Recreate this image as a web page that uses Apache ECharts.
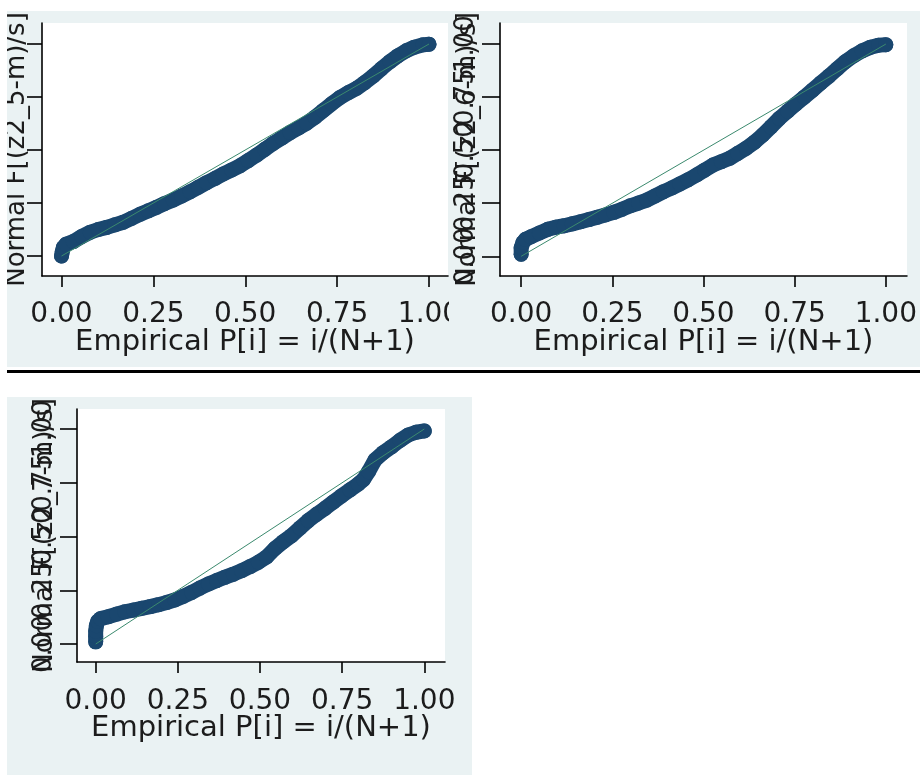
<!DOCTYPE html>
<html>
<head>
<meta charset="utf-8">
<script src="https://cdn.jsdelivr.net/npm/echarts@6/dist/echarts.min.js"></script>
<style>
html,body{margin:0;padding:0;background:#fff;}
#chart{width:920px;height:775px;}
</style>
</head>
<body>
<div id="chart"></div>
<script>
// ---- data ----
const tickValues = [0, 0.25, 0.5, 0.75, 1];
const yLabelsA = [0, 0.5, 1];      // y tick labels drawn on the main axis
const yLabelsB = [0.25, 0.75];     // y tick labels drawn on an overlaid axis (they overlap in the original)
const xTitle = 'Empirical P[i] = i/(N+1)';
const yTitles = ['Normal F[(z2_5-m)/s]', 'Normal F[(z2_6-m)/s]', 'Normal F[(z2_7-m)/s]'];
const refLine = [[0, 0], [1, 1]];

const pp1 = [
  [0.000, 0.000], [0.002, 0.020], [0.005, 0.040], [0.012, 0.055], [0.032, 0.068], [0.055, 0.092],
  [0.078, 0.112], [0.100, 0.125], [0.123, 0.135], [0.145, 0.147], [0.168, 0.159], [0.190, 0.177],
  [0.214, 0.197], [0.236, 0.213], [0.259, 0.230], [0.280, 0.247], [0.304, 0.264], [0.327, 0.283],
  [0.350, 0.303], [0.372, 0.324], [0.395, 0.346], [0.418, 0.366], [0.440, 0.387], [0.463, 0.406],
  [0.486, 0.426], [0.508, 0.450], [0.531, 0.476], [0.553, 0.503], [0.576, 0.531], [0.600, 0.557],
  [0.622, 0.582], [0.645, 0.604], [0.667, 0.626], [0.690, 0.655], [0.712, 0.686], [0.735, 0.718],
  [0.758, 0.748], [0.780, 0.770], [0.803, 0.791], [0.825, 0.818], [0.848, 0.849], [0.871, 0.884],
  [0.894, 0.917], [0.916, 0.945], [0.939, 0.969], [0.960, 0.985], [0.984, 0.996], [1.000, 0.999]
];
const pp2 = [
  [0.000, 0.010], [0.000, 0.040], [0.005, 0.065], [0.012, 0.080], [0.027, 0.092], [0.050, 0.110],
  [0.073, 0.127], [0.095, 0.137], [0.118, 0.144], [0.140, 0.153], [0.163, 0.163], [0.186, 0.173],
  [0.209, 0.184], [0.231, 0.195], [0.254, 0.207], [0.277, 0.222], [0.299, 0.238], [0.322, 0.251],
  [0.345, 0.265], [0.367, 0.284], [0.390, 0.304], [0.413, 0.322], [0.435, 0.341], [0.458, 0.361],
  [0.481, 0.383], [0.503, 0.406], [0.526, 0.430], [0.549, 0.446], [0.572, 0.462], [0.594, 0.485],
  [0.617, 0.509], [0.640, 0.538], [0.662, 0.571], [0.685, 0.610], [0.708, 0.650], [0.731, 0.684],
  [0.753, 0.717], [0.776, 0.750], [0.799, 0.783], [0.821, 0.816], [0.844, 0.849], [0.867, 0.884],
  [0.889, 0.917], [0.912, 0.945], [0.935, 0.968], [0.958, 0.985], [0.980, 0.995], [1.000, 0.997]
];
const pp3 = [
  [0.000, 0.010], [0.000, 0.035], [0.000, 0.060], [0.002, 0.085], [0.006, 0.105], [0.015, 0.118],
  [0.038, 0.127], [0.064, 0.139], [0.089, 0.150], [0.115, 0.158], [0.140, 0.166], [0.166, 0.174],
  [0.191, 0.183], [0.216, 0.193], [0.241, 0.205], [0.267, 0.222], [0.292, 0.240], [0.317, 0.260],
  [0.343, 0.279], [0.368, 0.295], [0.393, 0.310], [0.419, 0.325], [0.444, 0.341], [0.470, 0.360],
  [0.495, 0.380], [0.520, 0.405], [0.546, 0.445], [0.571, 0.476], [0.596, 0.504], [0.622, 0.540],
  [0.647, 0.574], [0.672, 0.603], [0.698, 0.631], [0.723, 0.660], [0.749, 0.690], [0.774, 0.717],
  [0.799, 0.744], [0.815, 0.765], [0.830, 0.801], [0.850, 0.856], [0.875, 0.890], [0.901, 0.918],
  [0.926, 0.947], [0.951, 0.972], [0.975, 0.985], [1.000, 0.991]
];
const panelData = [pp1, pp2, pp3];

// ---- layout / style ----
const BG = '#eaf2f3';
const MARK = '#1a476f';
const REF = '#3b8a6e';
const TXT = '#1c1c1c';
const FONT = 'DejaVu Sans';

const panels = [
  { grid: {left: 42, top: 23, width: 406, height: 253}, x: [-0.0531, 1.0517], y: [-0.0943, 1.099],
    yTick: 15, showYLabels: false, yNameGap: 12, z: 0, xMargin: 25 },
  { grid: {left: 500, top: 23, width: 410, height: 253}, x: [-0.058, 1.058], y: [-0.0928, 1.0993],
    yTick: 18, showYLabels: true, yNameGap: 19, z: 3, xMargin: 25 },
  { grid: {left: 77, top: 409, width: 368, height: 253}, x: [-0.0569, 1.063], y: [-0.0837, 1.093],
    yTick: 17, showYLabels: true, yNameGap: 19, z: 0, xMargin: 26 }
];

const fmt = v => Number(v).toFixed(2);
const axisLineStyle = {color: '#000', width: 1.6};
const yLabelStyle = {fontFamily: FONT, fontSize: 26, color: TXT};

const option = {
  animation: false,
  backgroundColor: '#fff',
  graphic: [
    {type: 'rect', shape: {x: 7, y: 11, width: 443, height: 356}, style: {fill: BG}, z: -10, silent: true},
    {type: 'rect', shape: {x: 449, y: 11, width: 471, height: 356}, style: {fill: BG}, z: 2, silent: true},
    {type: 'rect', shape: {x: 7, y: 397, width: 465, height: 378}, style: {fill: BG}, z: -10, silent: true},
    {type: 'rect', shape: {x: 7, y: 370, width: 913, height: 3}, style: {fill: '#000'}, z: 50, silent: true},
    {type: 'rect', shape: {x: 0, y: 0, width: 7, height: 369}, style: {fill: '#fff'}, z: 100, silent: true}
  ],
  grid: panels.map(p => Object.assign({show: true, backgroundColor: '#fff', borderWidth: 0, z: p.z}, p.grid)),
  xAxis: panels.map((p, i) => ({
    type: 'value', gridIndex: i, min: p.x[0], max: p.x[1], z: p.z + (p.z ? 1 : 0),
    axisLine: {show: true, onZero: false, lineStyle: axisLineStyle},
    axisTick: {show: true, length: 11, customValues: tickValues, lineStyle: axisLineStyle},
    axisLabel: {show: true, customValues: tickValues, formatter: fmt, margin: p.xMargin, interval: 0,
      showMinLabel: true, showMaxLabel: true, hideOverlap: false,
      fontFamily: FONT, fontSize: 28, color: TXT},
    splitLine: {show: false},
    name: xTitle, nameLocation: 'middle', nameGap: 52, nameMoveOverlap: false,
    nameTextStyle: {fontFamily: FONT, fontSize: 29, color: TXT}
  })),
  yAxis: [],
  series: []
};

panels.forEach((p, i) => {
  option.yAxis.push({
    type: 'value', gridIndex: i, min: p.y[0], max: p.y[1], z: p.z + (p.z ? 1 : 0),
    axisLine: {show: true, onZero: false, lineStyle: axisLineStyle},
    axisTick: {show: true, length: p.yTick, customValues: tickValues, lineStyle: axisLineStyle},
    axisLabel: Object.assign({show: p.showYLabels, customValues: yLabelsA, formatter: fmt, rotate: 90,
      showMinLabel: true, showMaxLabel: true, hideOverlap: false, margin: p.yTick + 3}, yLabelStyle),
    splitLine: {show: false},
    name: yTitles[i], nameLocation: 'middle', nameRotate: 90, nameGap: p.yNameGap, nameMoveOverlap: false,
    nameTextStyle: yLabelStyle
  });
});
// overlaid axes carrying the remaining (overlapping) tick labels
panels.forEach((p, i) => {
  option.yAxis.push({
    type: 'value', gridIndex: i, min: p.y[0], max: p.y[1], z: p.z + (p.z ? 1 : 0), position: 'left', offset: 0,
    axisLine: {show: false, onZero: false}, axisTick: {show: false},
    axisLabel: Object.assign({show: p.showYLabels, customValues: yLabelsB, formatter: fmt, rotate: 90,
      showMinLabel: true, showMaxLabel: true, hideOverlap: false, margin: p.yTick + 3}, yLabelStyle),
    splitLine: {show: false}
  });
});

panelData.forEach((d, i) => {
  option.series.push({
    type: 'line', name: 'pp' + (i + 1), xAxisIndex: i, yAxisIndex: i, data: d,
    symbol: 'circle', symbolSize: 15, showSymbol: true, showAllSymbol: true,
    itemStyle: {color: MARK}, lineStyle: {color: MARK, width: 15, cap: 'round', join: 'round'},
    z: panels[i].z + 5, silent: true
  });
  option.series.push({
    type: 'line', name: 'ref' + (i + 1), xAxisIndex: i, yAxisIndex: i, data: refLine,
    symbol: 'none', lineStyle: {color: REF, width: 1}, z: panels[i].z + 6, silent: true
  });
});

const chart = echarts.init(document.getElementById('chart'), null, {renderer: 'canvas'});
chart.setOption(option);
</script>
</body>
</html>
